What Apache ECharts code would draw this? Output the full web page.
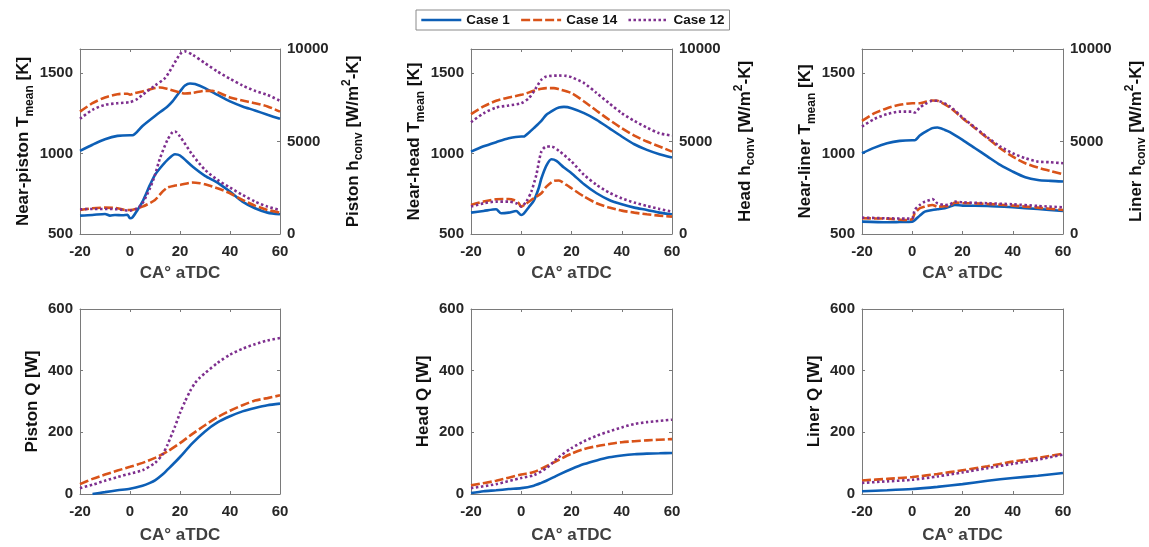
<!DOCTYPE html>
<html>
<head>
<meta charset="utf-8">
<script src="https://cdn.jsdelivr.net/npm/echarts@6/dist/echarts.min.js"></script>
<style>html,body{margin:0;padding:0;background:#fff;}#c{width:1149px;height:547px;}</style>
</head>
<body>
<div id="c"></div>
<script>
// ---------- DATA (x = CA° aTDC) ----------
const caseNames = ['Case 1', 'Case 14', 'Case 12'];
const xTicks = [-20, 0, 20, 40, 60];

// Near-piston T_mean [K]
const pistonT1 = [[-20,1017],[-15,1055],[-10,1089],[-5,1110],[0,1114],[1,1114],[5,1172],[10,1234],[15,1293],[17,1324],[20,1386],[22,1423],[24,1436],[26,1432],[30,1407],[35,1365],[40,1324],[45,1293],[50,1268],[55,1241],[60,1216]];
const pistonT14 = [[-20,1261],[-15,1313],[-10,1349],[-5,1369],[-1,1372],[0,1366],[2,1376],[5,1386],[10,1407],[12,1411],[15,1402],[20,1380],[22,1373],[25,1377],[30,1390],[33,1390],[35,1382],[40,1349],[45,1330],[50,1313],[55,1293],[60,1261]];
const pistonT12 = [[-20,1216],[-15,1272],[-10,1303],[-5,1313],[0,1320],[3,1340],[5,1365],[10,1423],[14,1469],[17,1541],[20,1618],[22,1635],[25,1614],[30,1562],[35,1510],[40,1465],[45,1423],[50,1390],[55,1365],[60,1328]];
// Piston h_conv [W/m2-K]
const pistonH1 = [[-20,993],[-15,1029],[-10,1083],[-8,993],[-6,1029],[-3,1010],[-1,1040],[0,848],[1,900],[3,1300],[5,1751],[8,2653],[10,3195],[12,3556],[15,4007],[18,4314],[20,4242],[25,3646],[30,3141],[35,2780],[40,2292],[45,1751],[50,1390],[55,1155],[60,1065]];
const pistonH14 = [[-20,1300],[-15,1390],[-10,1426],[-5,1390],[-2,1300],[0,1300],[5,1480],[10,1841],[13,2292],[15,2509],[18,2617],[20,2653],[25,2780],[28,2744],[30,2690],[35,2473],[40,2202],[45,1841],[50,1534],[55,1300],[60,1155]];
const pistonH12 = [[-20,1336],[-15,1354],[-10,1354],[-5,1336],[0,1264],[3,1390],[5,1661],[8,2473],[10,3195],[12,4097],[15,5090],[17,5505],[18,5541],[20,5271],[25,4278],[30,3466],[35,2924],[40,2509],[45,2112],[50,1751],[55,1480],[60,1300]];

// Near-head T_mean [K]
const headT1 = [[-20,1012],[-15,1045],[-10,1071],[-5,1095],[0,1106],[1,1106],[3,1130],[5,1158],[8,1203],[10,1241],[13,1272],[15,1286],[17,1290],[20,1282],[25,1251],[30,1210],[35,1158],[40,1106],[45,1058],[50,1023],[55,996],[60,975]];
const headT14 = [[-20,1245],[-15,1293],[-10,1328],[-5,1349],[0,1365],[5,1390],[8,1403],[10,1407],[13,1407],[15,1400],[20,1376],[25,1324],[30,1266],[35,1210],[40,1158],[45,1112],[50,1075],[55,1044],[60,1012]];
const headT12 = [[-20,1195],[-15,1250],[-10,1286],[-5,1299],[0,1313],[3,1344],[5,1386],[8,1459],[10,1479],[15,1485],[18,1483],[20,1475],[25,1438],[30,1376],[35,1313],[40,1251],[45,1203],[50,1162],[55,1126],[60,1112]];
// Head h_conv [W/m2-K]
const headH1 = [[-20,1155],[-15,1245],[-10,1336],[-8,1119],[-5,1155],[-2,1245],[0,1029],[1,1100],[3,1450],[5,1800],[7,2500],[8,3000],[10,3700],[12,4043],[14,3953],[17,3592],[20,3285],[25,2690],[30,2202],[35,1841],[40,1606],[45,1426],[50,1300],[55,1155],[60,1065]];
const headH14 = [[-20,1570],[-15,1751],[-10,1877],[-5,1895],[-3,1840],[-1,1661],[0,1480],[2,1650],[5,1931],[8,2202],[10,2563],[13,2870],[15,2888],[18,2653],[20,2473],[25,2022],[30,1661],[35,1426],[40,1264],[45,1155],[50,1065],[55,993],[60,939]];
const headH12 = [[-20,1480],[-15,1660],[-10,1751],[-5,1751],[-2,1661],[0,1480],[2,1751],[4,2292],[6,3195],[8,4458],[10,4729],[12,4729],[15,4495],[20,3917],[25,3195],[30,2653],[35,2238],[40,1931],[45,1697],[50,1516],[55,1354],[60,1209]];

// Near-liner T_mean [K]
const linerT1 = [[-20,1002],[-15,1037],[-10,1064],[-5,1079],[0,1083],[1,1083],[3,1112],[5,1133],[8,1158],[10,1162],[13,1147],[15,1133],[20,1085],[25,1033],[30,981],[35,929],[40,888],[45,853],[50,836],[55,830],[60,826]];
const linerT14 = [[-20,1203],[-15,1251],[-10,1282],[-5,1303],[0,1313],[3,1313],[5,1320],[8,1330],[10,1328],[15,1286],[20,1220],[25,1158],[30,1095],[35,1033],[40,981],[45,940],[50,913],[55,892],[60,871]];
const linerT12 = [[-20,1168],[-15,1216],[-10,1245],[-5,1261],[0,1261],[1,1255],[3,1286],[5,1307],[8,1328],[10,1328],[15,1293],[20,1224],[25,1162],[30,1100],[35,1044],[40,1002],[45,971],[50,950],[55,946],[60,940]];
// Liner h_conv [W/m2-K]
const linerH1 = [[-20,668],[-10,632],[-5,650],[0,668],[1,750],[3,993],[5,1209],[8,1300],[10,1336],[13,1390],[15,1480],[17,1570],[20,1534],[30,1516],[40,1444],[50,1354],[60,1245]];
const linerH14 = [[-20,848],[-10,830],[-2,758],[0,812],[1,1119],[3,1390],[5,1480],[8,1570],[10,1480],[13,1500],[15,1534],[17,1697],[20,1679],[30,1625],[40,1534],[50,1426],[60,1300]];
const linerH12 = [[-20,884],[-10,848],[-2,830],[0,848],[1,1300],[3,1570],[5,1751],[7,1841],[8,1895],[9,1800],[10,1661],[13,1570],[15,1600],[17,1751],[20,1715],[30,1661],[40,1606],[50,1516],[60,1444]];

// Q [W]
const pistonQ1 = [[-15,0],[-10,6],[-5,12],[0,17],[5,27],[8,36],[10,44],[13,63],[15,79],[18,103],[20,120],[25,165],[30,203],[35,232],[40,252],[45,268],[50,279],[55,288],[60,293]];
const pistonQ14 = [[-20,32],[-15,49],[-10,63],[-5,76],[0,88],[5,101],[10,117],[15,138],[20,165],[25,195],[30,223],[35,249],[40,270],[45,288],[50,303],[55,311],[60,320]];
const pistonQ12 = [[-20,19],[-15,30],[-10,43],[-5,55],[0,66],[5,77],[10,101],[13,128],[15,160],[18,219],[20,263],[22,300],[24,333],[26,360],[28,378],[30,392],[35,425],[40,452],[45,471],[50,486],[55,498],[60,506]];
const headQ1 = [[-20,3],[-15,9],[-10,12],[-5,16],[0,19],[5,27],[8,36],[10,43],[15,63],[20,81],[25,97],[30,109],[35,119],[40,125],[45,129],[50,131],[55,132],[60,133]];
const headQ14 = [[-20,28],[-10,43],[0,63],[5,71],[10,90],[15,111],[20,131],[25,146],[30,155],[35,162],[40,168],[50,174],[60,178]];
const headQ12 = [[-20,19],[-10,32],[0,52],[5,61],[10,84],[15,120],[20,149],[25,171],[30,189],[35,203],[40,216],[45,227],[50,233],[60,241]];
const linerQ1 = [[-20,9],[-10,12],[0,16],[10,23],[20,32],[30,43],[40,52],[50,59],[60,68]];
const linerQ14 = [[-20,44],[-10,49],[0,55],[10,65],[20,77],[30,90],[40,105],[50,117],[60,131]];
const linerQ12 = [[-20,36],[-10,41],[0,46],[10,57],[20,70],[30,84],[40,98],[50,111],[60,128]];

// ---------- STYLE ----------
const FONT = 'Liberation Sans, Arial, sans-serif';
const colors = ['#0d5fb6', '#d95319', '#7e2f8e'];
const lineTypes = ['solid', [9, 3], [2.5, 2.5]];
const frameColor = '#7a7a7a';
const tickColor = '#262626';

const gridsPos = [
  {left: 80, top: 49}, {left: 471, top: 49}, {left: 862, top: 49},
  {left: 80, top: 309}, {left: 471, top: 309}, {left: 862, top: 309}
];

const richBase = {
  b: {fontSize: 17, fontWeight: 'bold', fontFamily: FONT, color: '#111', lineHeight: 24, verticalAlign: 'middle'},
  s: {fontSize: 12, fontWeight: 'bold', fontFamily: FONT, color: '#111', lineHeight: 12, verticalAlign: 'bottom'},
  p: {fontSize: 12, fontWeight: 'bold', fontFamily: FONT, color: '#111', lineHeight: 12, verticalAlign: 'top'}
};

const panels = [
  {left: '{b|Near-piston T}{s|mean}{b| [K]}', right: '{b|Piston h}{s|conv}{b| [W/m}{p|2}{b|-K]}', T: [pistonT1, pistonT14, pistonT12], H: [pistonH1, pistonH14, pistonH12]},
  {left: '{b|Near-head T}{s|mean}{b| [K]}', right: '{b|Head h}{s|conv}{b| [W/m}{p|2}{b|-K]}', T: [headT1, headT14, headT12], H: [headH1, headH14, headH12]},
  {left: '{b|Near-liner T}{s|mean}{b| [K]}', right: '{b|Liner h}{s|conv}{b| [W/m}{p|2}{b|-K]}', T: [linerT1, linerT14, linerT12], H: [linerH1, linerH14, linerH12]},
  {left: '{b|Piston Q [W]}', Q: [pistonQ1, pistonQ14, pistonQ12]},
  {left: '{b|Head Q [W]}', Q: [headQ1, headQ14, headQ12]},
  {left: '{b|Liner Q [W]}', Q: [linerQ1, linerQ14, linerQ12]}
];

const grid = [], xAxis = [], yAxis = [], series = [];
const tickLabel = {fontSize: 15, fontWeight: 'bold', fontFamily: FONT, color: tickColor};
const plain = v => String(v);

panels.forEach((p, i) => {
  grid.push({left: gridsPos[i].left, top: gridsPos[i].top, width: i % 3 === 0 ? 200 : 201, height: 185});
  const isTop = i < 3;
  xAxis.push({
    gridIndex: i, type: 'value', position: 'bottom', min: -20, max: 60, interval: 20,
    axisLine: {onZero: false, lineStyle: {color: frameColor, width: 1}},
    axisTick: {inside: true, length: 3, lineStyle: {color: frameColor}},
    axisLabel: Object.assign({margin: 10, formatter: v => xTicks.includes(v) ? String(v) : ''}, tickLabel),
    splitLine: {show: false},
    name: 'CA° aTDC', nameLocation: 'middle', nameGap: isTop ? 31 : 33,
    nameTextStyle: {fontSize: 17, fontWeight: 'bold', fontFamily: FONT, color: '#404040'}
  });
  xAxis.push({
    gridIndex: i, type: 'value', position: 'top', min: -20, max: 60, interval: 20,
    axisLine: {onZero: false, lineStyle: {color: frameColor, width: 1}},
    axisTick: {inside: true, length: 3, lineStyle: {color: frameColor}},
    axisLabel: {show: false}, splitLine: {show: false}
  });
  if (isTop) {
    yAxis.push({
      gridIndex: i, type: 'value', position: 'left', min: 500, max: 1650, interval: 500,
      axisLine: {show: true, onZero: false, lineStyle: {color: frameColor, width: 1}},
      axisTick: {show: true, inside: true, length: 3, lineStyle: {color: frameColor}},
      axisLabel: Object.assign({margin: 7, showMaxLabel: false, formatter: plain}, tickLabel),
      splitLine: {show: false},
      name: p.left, nameLocation: 'middle', nameGap: 44, nameRotate: 90,
      nameTextStyle: {fontSize: 17, fontWeight: 'bold', fontFamily: FONT, color: '#111', rich: richBase}
    });
    yAxis.push({
      gridIndex: i, type: 'value', position: 'right', min: 0, max: 10000, interval: 5000,
      axisLine: {show: true, onZero: false, lineStyle: {color: frameColor, width: 1}},
      axisTick: {show: true, inside: true, length: 3, lineStyle: {color: frameColor}},
      axisLabel: Object.assign({margin: 7, formatter: plain}, tickLabel),
      splitLine: {show: false},
      name: p.right, nameLocation: 'middle', nameGap: 61, nameRotate: 90,
      nameTextStyle: {fontSize: 17, fontWeight: 'bold', fontFamily: FONT, color: '#111', rich: richBase}
    });
    p.T.forEach((d, k) => series.push(mk(k, d, 2 * i, 2 * i)));
    p.H.forEach((d, k) => series.push(mk(k, d, 2 * i, 2 * i + 1)));
  } else {
    yAxis.push({
      gridIndex: i, type: 'value', position: 'left', min: 0, max: 600, interval: 200,
      axisLine: {show: true, onZero: false, lineStyle: {color: frameColor, width: 1}},
      axisTick: {show: true, inside: true, length: 3, lineStyle: {color: frameColor}},
      axisLabel: Object.assign({margin: 7, formatter: plain}, tickLabel),
      splitLine: {show: false},
      name: p.left, nameLocation: 'middle', nameGap: 36, nameRotate: 90,
      nameTextStyle: {fontSize: 17, fontWeight: 'bold', fontFamily: FONT, color: '#111', rich: richBase}
    });
    yAxis.push({
      gridIndex: i, type: 'value', position: 'right', min: 0, max: 600, interval: 200,
      axisLine: {show: true, onZero: false, lineStyle: {color: frameColor, width: 1}},
      axisTick: {show: true, inside: true, length: 3, lineStyle: {color: frameColor}},
      axisLabel: {show: false}, splitLine: {show: false}
    });
    p.Q.forEach((d, k) => series.push(mk(k, d, 2 * i, 2 * i)));
  }
});

function mk(k, data, xi, yi) {
  return {
    name: caseNames[k], type: 'line', xAxisIndex: xi, yAxisIndex: yi,
    data: data, symbol: 'none', showSymbol: false, smooth: 0.25,
    lineStyle: {color: colors[k], width: 2.6, type: lineTypes[k], cap: 'butt'},
    itemStyle: {color: colors[k]}, animation: false, z: 2 + k
  };
}

const chart = echarts.init(document.getElementById('c'), null, {renderer: 'canvas'});
chart.setOption({
  backgroundColor: '#fff',
  animation: false,
  legend: {
    data: caseNames, left: 416, top: 10, orient: 'horizontal',
    itemWidth: 40, itemHeight: 14, itemGap: 10, padding: [3, 5, 3, 4],
    borderColor: '#8a8a8a', borderWidth: 1, backgroundColor: '#fff',
    itemStyle: {opacity: 0},
    lineStyle: {width: 2.6},
    textStyle: {fontSize: 13.5, fontWeight: 'bold', fontFamily: FONT, color: '#111'}
  },
  grid: grid, xAxis: xAxis, yAxis: yAxis, series: series
});
</script>
</body>
</html>
